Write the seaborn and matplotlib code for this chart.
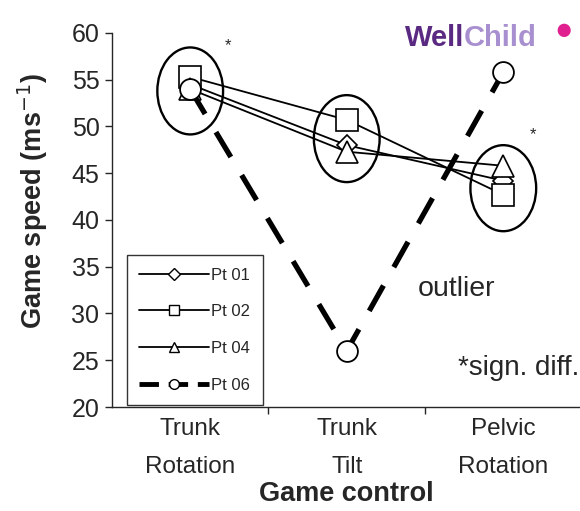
import pandas as pd
import matplotlib.pyplot as plt
import seaborn as sns
from matplotlib.patches import Ellipse
from matplotlib.lines import Line2D

# data
controls = ["Trunk\nRotation", "Trunk\nTilt", "Pelvic\nRotation"]
pt01 = [54.5, 48.0, 44.2]
pt02 = [55.3, 50.7, 42.7]
pt04 = [54.0, 47.3, 45.8]
pt06 = [54.0, 26.0, 55.8]
participants = ["Pt 01", "Pt 02", "Pt 04", "Pt 06"]
markers = ["D", "s", "^", "o"]

# cluster ellipses (centre y, height) per control
ell_y = [53.8, 48.7, 43.4]
ell_h = [9.3, 9.3, 9.2]

rows = []
for name, vals in zip(participants, [pt01, pt02, pt04, pt06]):
    for i, v in enumerate(vals):
        rows.append({"participant": name, "x": i, "speed": v})
df = pd.DataFrame(rows)

sns.set_style("ticks")
plt.rcParams['font.family'] = ['Liberation Sans', 'DejaVu Sans']

fig = plt.figure(figsize=(5.8, 5.11), dpi=100)
ax = fig.add_axes([0.193, 0.2035, 0.807, 0.732])

for name, m in zip(participants, markers):
    sub = df[df['participant'] == name]
    if name == "Pt 06":
        sns.lineplot(data=sub, x="x", y="speed", ax=ax, color="black",
                     linewidth=3.8, linestyle=(0, (5.5, 4)), marker=m, markersize=15,
                     markerfacecolor="white", markeredgecolor="black",
                     markeredgewidth=1.3, legend=False)
    else:
        ms = 10 if m == "D" else 16
        sns.lineplot(data=sub, x="x", y="speed", ax=ax, color="black",
                     linewidth=1.3, marker=m, markersize=ms,
                     markerfacecolor="white", markeredgecolor="black",
                     markeredgewidth=1.2, legend=False)

for i in range(3):
    ax.add_patch(Ellipse((i, ell_y[i]), 0.42, ell_h[i], fill=False,
                         edgecolor="black", linewidth=1.7, zorder=5))

ax.set_xlim(-0.5, 2.49)
ax.set_ylim(20, 60)
ax.set_yticks(range(20, 61, 5))
ax.set_xticks([0, 1, 2])
ax.set_xticklabels(controls, linespacing=1.95)
ax.set_xticks([0.5, 1.5], minor=True)
ax.tick_params(axis="x", which="major", length=0, labelsize=17.5, pad=8)
ax.tick_params(axis="x", which="minor", length=5, width=1, direction="out")
ax.tick_params(axis="y", length=5, width=1, labelsize=18, direction="out", pad=4)
sns.despine(ax=ax)
ax.spines['left'].set_linewidth(1)
ax.spines['bottom'].set_linewidth(1)
ax.set_xlabel("Game control", fontsize=19.5, fontweight="bold", labelpad=2)
ax.set_ylabel("Game speed (ms$^{-1}$)", fontsize=19.5, fontweight="bold")
ax.yaxis.set_label_coords(-0.132, 0.55)

ax.text(0.24, 58.6, "*", fontsize=12, ha="center", va="center")
ax.text(2.19, 49.1, "*", fontsize=12, ha="center", va="center")
ax.text(1.70, 32.6, "outlier", fontsize=20.5, ha="center", va="center")
ax.text(2.485, 24.2, "*sign. diff.", fontsize=20, ha="right", va="center")

handles = []
for name, m in zip(participants, markers):
    if name == "Pt 06":
        h = Line2D([], [], color="black", linewidth=3.5, linestyle=(0, (4, 2)),
                   marker=m, markersize=7, markerfacecolor="white",
                   markeredgecolor="black")
    else:
        h = Line2D([], [], color="black", linewidth=1.3, marker=m,
                   markersize=6 if m == "D" else 7, markerfacecolor="white",
                   markeredgecolor="black")
    handles.append(h)
leg = ax.legend(handles, participants, loc="lower left",
                bbox_to_anchor=(0.032, 0.005), fontsize=12, handlelength=4.2,
                handletextpad=0.1, labelspacing=1.3, borderpad=0.75,
                numpoints=1, frameon=True, fancybox=False,
                borderaxespad=0)
leg.get_frame().set_edgecolor("black")
leg.get_frame().set_linewidth(1)
leg.set_zorder(10)

# WellChild logo
well = fig.text(0.698, 0.926, "Well", fontsize=21, fontweight="bold",
                color="#5a2a82", ha="left", va="center")
ax.annotate("Child", xy=(1, 0.5), xycoords=well, fontsize=21,
            fontweight="bold", color="#a88fcf", ha="left", va="center",
            annotation_clip=False)
fig.text(0.972, 0.940, "\u25cf", fontsize=22, color="#e0208f",
         ha="center", va="center")

fig.savefig("out.png", dpi=100)
